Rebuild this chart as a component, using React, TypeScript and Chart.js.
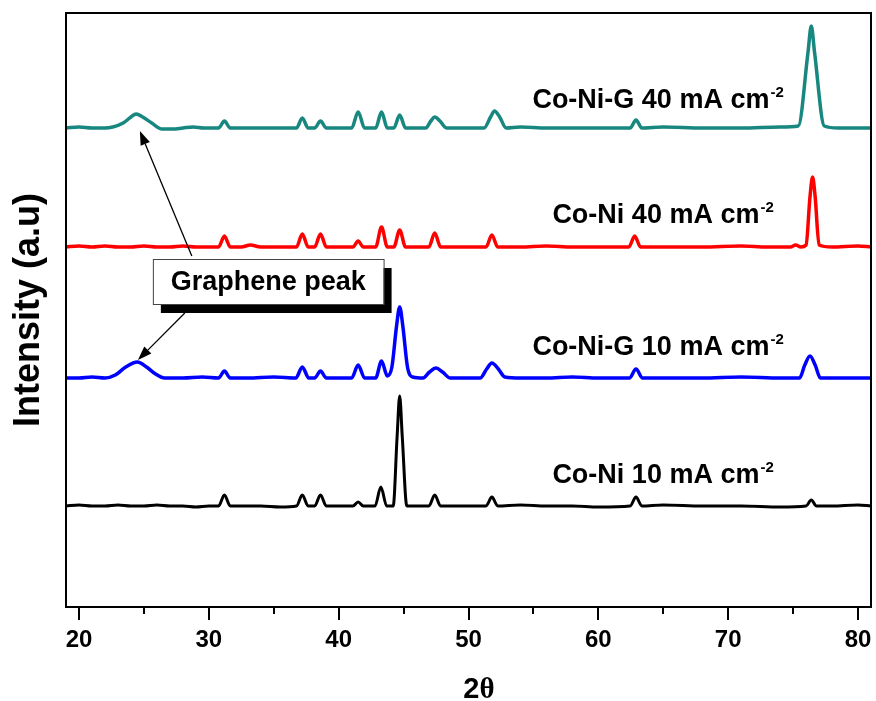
import React, { useEffect, useRef } from 'react';
import { Chart, registerables } from 'chart.js';

Chart.register(...registerables);

// ---------- data (2θ, intensity a.u., stacked offsets included) ----------
const majorTicks = [20, 30, 40, 50, 60, 70, 80];
const minorTicks = [25, 35, 45, 55, 65, 75];

const coNi10: [number, number][] = [
  [19, 101], [20, 102], [21, 101], [22, 101], [23, 102], [24, 101], [25, 101], [26, 102], [27, 101],
  [28, 101], [29, 100], [30, 101], [30.75, 101], [31.2, 112], [31.65, 101], [32.5, 101], [34, 101],
  [35.5, 100], [36.75, 101], [37.2, 112], [37.65, 101], [38.15, 101], [38.6, 112], [39.05, 101],
  [40, 101], [41.1, 101], [41.5, 105], [41.9, 101], [42.8, 101], [43.25, 120], [43.7, 101],
  [44.2, 101], [44.5, 170], [44.7, 211], [44.9, 170], [45.25, 101], [46.95, 101], [47.4, 112],
  [47.85, 101], [49, 101], [51.35, 101], [51.8, 110], [52.25, 101], [54, 102], [56, 101], [58, 101],
  [60, 100], [62.45, 101], [62.9, 110], [63.35, 101], [65, 102], [68, 101], [71, 101], [74, 100],
  [76.0, 101], [76.4, 107], [76.8, 101], [78, 101], [80, 102], [81, 101],
];

const coNiG10: [number, number][] = [
  [19, 229], [20, 229], [21, 230], [22, 229], [22.8, 232], [23.6, 240], [24.5, 245], [25.2, 240],
  [25.9, 233], [26.6, 229], [28, 229], [29.5, 230], [30.75, 229], [31.2, 236], [31.65, 229], [33, 229],
  [35, 230], [36.7, 229], [37.2, 240], [37.7, 229], [38.15, 229], [38.6, 236], [39.05, 229], [41, 229],
  [41.5, 242], [42, 229], [42.85, 229], [43.3, 246], [43.75, 231], [44.1, 240], [44.45, 280],
  [44.7, 300], [44.95, 280], [45.3, 240], [45.7, 230], [46.5, 229], [47.0, 235], [47.5, 239],
  [48.0, 235], [48.6, 229], [50.9, 229], [51.4, 238], [51.8, 244], [52.3, 238], [52.8, 230], [54, 229],
  [56, 229], [58, 230], [60, 229], [62.4, 229], [62.9, 238], [63.4, 229], [65, 229], [68, 229],
  [71, 230], [74, 229], [75.5, 229], [75.9, 242], [76.3, 251], [76.7, 242], [77.1, 229], [78, 229],
  [80, 229], [81, 229],
];

const coNi40: [number, number][] = [
  [19, 360], [20, 361], [21, 360], [22, 361], [23, 360], [24, 360], [25, 361], [26, 360], [27, 360],
  [28, 361], [29, 360], [30, 360], [30.75, 360], [31.2, 371], [31.65, 360], [32.5, 360], [33.2, 362],
  [34, 360], [35, 360], [36, 360], [36.75, 360], [37.2, 373], [37.65, 360], [38.15, 360], [38.6, 373],
  [39.05, 360], [40, 360], [41.1, 360], [41.5, 366], [41.9, 360], [42.85, 360], [43.3, 380],
  [43.75, 360], [44.25, 360], [44.7, 377], [45.15, 360], [46.95, 360], [47.4, 374], [47.85, 360],
  [49, 360], [51.35, 360], [51.8, 372], [52.25, 360], [54, 360], [56, 361], [58, 360], [60, 360],
  [62.35, 360], [62.8, 371], [63.25, 360], [65, 360], [68, 360], [71, 361], [73, 360], [74.8, 360],
  [75.2, 362], [75.6, 360], [76.0, 362], [76.3, 410], [76.5, 430], [76.7, 410], [77.0, 362],
  [78, 360], [80, 361], [81, 360],
];

const coNiG40: [number, number][] = [
  [19, 479], [20, 480], [21, 479], [22, 479], [22.6, 480], [23.4, 484], [24.0, 490], [24.4, 493],
  [24.9, 490], [25.6, 484], [26.4, 478], [27.2, 478], [28, 479], [28.8, 480], [29.6, 479],
  [30.75, 479], [31.2, 486], [31.65, 479], [33, 479], [34.5, 479], [36, 479], [36.75, 479],
  [37.2, 489], [37.65, 479], [38.15, 479], [38.6, 486], [39.05, 479], [40, 479], [41, 479],
  [41.5, 495], [42, 479], [42.85, 479], [43.3, 495], [43.75, 479], [44.25, 479], [44.7, 492],
  [45.15, 479], [46.7, 479], [47.1, 486], [47.4, 490], [47.8, 486], [48.3, 479], [50, 479],
  [51.2, 479], [51.7, 490], [52.0, 496], [52.4, 490], [52.9, 479], [54, 480], [56, 479], [58, 479],
  [60, 479], [62.45, 479], [62.9, 487], [63.35, 479], [65, 480], [68, 479], [71, 479], [74, 480],
  [75.4, 481], [76.15, 555], [76.4, 581], [76.65, 555], [77.4, 481], [78.5, 479], [80, 479], [81, 479],
];

const seriesNames = ['Co-Ni 10 mA cm', 'Co-Ni-G 10 mA cm', 'Co-Ni 40 mA cm', 'Co-Ni-G 40 mA cm'];
const seriesData = [coNi10, coNiG10, coNi40, coNiG40];
const seriesColors = ['#000000', '#0000ff', '#ff0000', '#17877f'];
const seriesWidths = [3, 3.5, 3.5, 3.5];

// ---------- annotation placement (data coordinates) ----------
const labelAnchors: [number, number][] = [[56.46, 124], [54.92, 252], [56.46, 384], [54.92, 499]];
const boxRange = { x0: 25.69, x1: 43.46, yTop: 348, yBottom: 303 };
const arrows: [number, number, number, number][] = [
  [28.69, 351, 24.69, 476],
  [28.15, 294, 24.54, 247],
];
const xTitleAt = 50.8;

const FONT = '"Liberation Sans", Arial, Helvetica, sans-serif';
const SERIF = '"Liberation Serif", "DejaVu Serif", serif';

const overlayPlugin = {
  id: 'overlay',
  afterDraw(chart: any) {
    const { ctx, chartArea: a, scales } = chart;
    const xs = scales.x;
    const ys = scales.y;
    ctx.save();
    // frame
    ctx.strokeStyle = '#000';
    ctx.lineWidth = 2;
    ctx.strokeRect(a.left, a.top, a.right - a.left, a.bottom - a.top);
    // tick marks
    ctx.beginPath();
    majorTicks.forEach((v) => {
      const px = Math.round(xs.getPixelForValue(v));
      ctx.moveTo(px, a.bottom);
      ctx.lineTo(px, a.bottom + 13);
    });
    minorTicks.forEach((v) => {
      const px = Math.round(xs.getPixelForValue(v));
      ctx.moveTo(px, a.bottom);
      ctx.lineTo(px, a.bottom + 7);
    });
    ctx.stroke();

    // x-axis title "2θ"
    ctx.fillStyle = '#000';
    ctx.textBaseline = 'alphabetic';
    ctx.textAlign = 'left';
    ctx.font = `bold 29px ${FONT}`;
    const two = '2';
    const twoW = ctx.measureText(two).width;
    ctx.font = `bold 29px ${SERIF}`;
    const thW = ctx.measureText('θ').width;
    const tx = xs.getPixelForValue(xTitleAt) - (twoW + thW) / 2;
    const ty = a.bottom + 91;
    ctx.font = `bold 29px ${FONT}`;
    ctx.fillText(two, tx, ty);
    ctx.font = `bold 29px ${SERIF}`;
    ctx.fillText('θ', tx + twoW, ty);

    // series labels
    seriesNames.forEach((name, i) => {
      const [lx, ly] = labelAnchors[i];
      const px = xs.getPixelForValue(lx);
      const py = ys.getPixelForValue(ly);
      ctx.font = `bold 27px ${FONT}`;
      ctx.fillText(name, px, py);
      const w = ctx.measureText(name).width;
      ctx.font = `bold 15px ${FONT}`;
      ctx.fillText('-2', px + w + 1, py - 11);
    });

    // arrows
    ctx.strokeStyle = '#000';
    ctx.fillStyle = '#000';
    ctx.lineWidth = 1.3;
    arrows.forEach(([x1, y1, x2, y2]) => {
      const p1x = xs.getPixelForValue(x1);
      const p1y = ys.getPixelForValue(y1);
      const p2x = xs.getPixelForValue(x2);
      const p2y = ys.getPixelForValue(y2);
      const ang = Math.atan2(p2y - p1y, p2x - p1x);
      const len = 14;
      const hw = 5;
      const bx = p2x - len * Math.cos(ang);
      const by = p2y - len * Math.sin(ang);
      ctx.beginPath();
      ctx.moveTo(p1x, p1y);
      ctx.lineTo(bx, by);
      ctx.stroke();
      ctx.beginPath();
      ctx.moveTo(p2x, p2y);
      ctx.lineTo(bx + hw * Math.sin(ang), by - hw * Math.cos(ang));
      ctx.lineTo(bx - hw * Math.sin(ang), by + hw * Math.cos(ang));
      ctx.closePath();
      ctx.fill();
    });

    // "Graphene peak" box with shadow
    const bx0 = xs.getPixelForValue(boxRange.x0);
    const bx1 = xs.getPixelForValue(boxRange.x1);
    const by0 = ys.getPixelForValue(boxRange.yTop);
    const by1 = ys.getPixelForValue(boxRange.yBottom);
    ctx.fillStyle = '#000';
    ctx.fillRect(bx0 + 8, by0 + 9, bx1 - bx0, by1 - by0);
    ctx.fillStyle = '#fff';
    ctx.fillRect(bx0, by0, bx1 - bx0, by1 - by0);
    ctx.strokeStyle = '#444';
    ctx.lineWidth = 1;
    ctx.strokeRect(bx0 + 0.5, by0 + 0.5, bx1 - bx0, by1 - by0);
    ctx.fillStyle = '#000';
    ctx.font = `bold 27px ${FONT}`;
    ctx.textAlign = 'center';
    ctx.textBaseline = 'middle';
    ctx.fillText('Graphene peak', (bx0 + bx1) / 2, (by0 + by1) / 2 + 1);
    ctx.restore();
  },
};

export default function App() {
  const canvasRef = useRef<HTMLCanvasElement | null>(null);

  useEffect(() => {
    if (!canvasRef.current) return;
    const chart = new Chart(canvasRef.current, {
      type: 'line',
      data: {
        datasets: seriesData.map((d, i) => ({
          label: seriesNames[i],
          data: d.map(([x, y]) => ({ x, y })),
          borderColor: seriesColors[i],
          backgroundColor: seriesColors[i],
          borderWidth: seriesWidths[i],
          borderJoinStyle: 'round' as const,
          borderCapStyle: 'round' as const,
          pointRadius: 0,
          cubicInterpolationMode: 'monotone' as const,
          fill: false,
        })),
      },
      options: {
        animation: false,
        responsive: true,
        maintainAspectRatio: false,
        layout: { padding: { top: 13, right: 5, left: 0, bottom: 0 } },
        plugins: { legend: { display: false }, tooltip: { enabled: false } },
        events: [],
        scales: {
          x: {
            type: 'linear',
            min: 19,
            max: 81,
            grid: { display: false, drawTicks: false },
            border: { display: false },
            afterBuildTicks: (scale: any) => {
              scale.ticks = majorTicks.map((v) => ({ value: v }));
            },
            afterFit: (scale: any) => {
              scale.height = 94;
              scale.paddingLeft = 0;
              scale.paddingRight = 0;
            },
            ticks: {
              color: '#000',
              padding: 19,
              maxRotation: 0,
              font: { family: FONT, size: 24, weight: 'bold' },
            },
            title: { display: false },
          },
          y: {
            type: 'linear',
            min: 0,
            max: 594,
            grid: { display: false, drawTicks: false },
            border: { display: false },
            ticks: { display: false },
            afterFit: (scale: any) => {
              scale.width = 66;
            },
            title: {
              display: true,
              text: 'Intensity (a.u)',
              color: '#000',
              font: { family: FONT, size: 36, weight: 'bold', lineHeight: 1.2 },
              padding: { top: 7, bottom: 0 },
            },
          },
        },
      },
      plugins: [overlayPlugin],
    });
    return () => chart.destroy();
  }, []);

  return (
    <div style={{ position: 'absolute', left: 0, top: 0, width: 876, height: 701, background: '#fff' }}>
      <canvas ref={canvasRef} />
    </div>
  );
}
